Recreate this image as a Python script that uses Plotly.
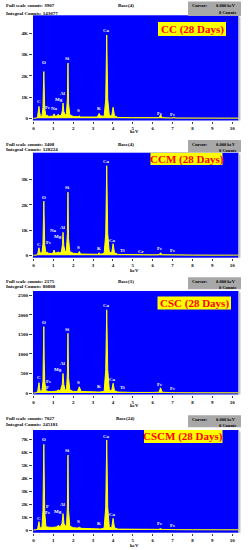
import plotly.graph_objects as go

# ---------------- data ----------------
titles = ["CC (28 Days)", "CCM (28 Days)", "CSC (28 Days)", "CSCM (28 Days)"]
full_scale = ["3907", "3408", "2175", "7027"]
integral = ["143077", "128224", "80808", "245181"]
base_txt = ["Base(4)", "Base(4)", "Base(1)", "Base(24)"]

cc_kev = [0.00, 0.15, 0.21, 0.25, 0.28, 0.31, 0.36, 0.43, 0.48, 0.525, 0.57, 0.63, 0.70, 0.77, 0.90, 0.99, 1.04, 1.09, 1.18, 1.25,
          1.31, 1.41, 1.46, 1.49, 1.53, 1.60, 1.66, 1.71, 1.74, 1.77, 1.83, 2.00, 2.24, 2.31, 2.38, 2.70, 3.20, 3.27, 3.31, 3.36,
          3.56, 3.64, 3.69, 3.74, 3.82, 3.94, 4.01, 4.08, 4.25, 5.00, 6.00, 6.32, 6.40, 6.48, 6.95, 7.06, 7.17, 8.00, 9.00, 10.40]
cc_counts = [0, 10, 80, 350, 560, 300, 80, 100, 500, 2200, 450, 110, 140, 90, 80, 100, 210, 100, 110, 190,
             120, 150, 380, 720, 320, 140, 220, 900, 2600, 700, 160, 90, 70, 110, 60, 50, 60, 150, 230, 120,
             90, 900, 3920, 900, 130, 110, 520, 120, 40, 30, 25, 30, 170, 30, 15, 40, 15, 12, 10, 8]

ccm_kev = [0.00, 0.15, 0.22, 0.28, 0.33, 0.43, 0.48, 0.525, 0.57, 0.63, 0.70, 0.77, 0.90, 0.99, 1.04, 1.09, 1.18, 1.25, 1.31, 1.41,
           1.46, 1.49, 1.53, 1.60, 1.66, 1.71, 1.74, 1.77, 1.83, 2.00, 2.24, 2.31, 2.38, 2.70, 3.24, 3.31, 3.38, 3.56, 3.64, 3.69,
           3.74, 3.82, 3.94, 4.01, 4.08, 4.25, 4.51, 4.80, 5.41, 6.00, 6.32, 6.40, 6.48, 6.95, 7.06, 7.17, 8.00, 9.00, 10.40]
ccm_counts = [0, 10, 60, 300, 90, 90, 450, 2150, 420, 100, 120, 80, 70, 90, 210, 90, 100, 130, 100, 130,
              420, 910, 380, 130, 200, 850, 2500, 650, 150, 80, 60, 150, 50, 45, 40, 100, 40, 80, 850, 3550,
              850, 120, 100, 460, 110, 35, 30, 25, 20, 20, 25, 100, 25, 15, 25, 12, 10, 8, 6]

csc_kev = [0.00, 0.15, 0.22, 0.28, 0.33, 0.43, 0.48, 0.505, 0.525, 0.545, 0.57, 0.63, 0.68, 0.75, 0.90, 1.04, 1.15, 1.25, 1.35, 1.45,
           1.49, 1.53, 1.60, 1.67, 1.71, 1.74, 1.77, 1.83, 2.00, 2.22, 2.31, 2.40, 2.70, 3.31, 3.56, 3.64, 3.69, 3.74, 3.82, 3.94,
           4.01, 4.08, 4.25, 4.51, 5.00, 6.00, 6.32, 6.40, 6.48, 6.95, 7.06, 7.17, 8.00, 9.00, 10.40]
csc_counts = [0, 5, 60, 265, 50, 50, 300, 850, 1700, 850, 300, 60, 50, 40, 35, 40, 45, 80, 50, 220,
              500, 220, 60, 120, 500, 1530, 400, 80, 40, 40, 160, 40, 30, 25, 40, 600, 2130, 600, 70, 60,
              250, 60, 25, 20, 15, 15, 20, 135, 20, 10, 15, 8, 6, 5, 4]

cscm_kev = [0.00, 0.15, 0.22, 0.28, 0.33, 0.43, 0.48, 0.525, 0.55, 0.57, 0.63, 0.70, 0.77, 0.90, 1.04, 1.15, 1.25, 1.35, 1.44, 1.49,
            1.54, 1.62, 1.67, 1.71, 1.74, 1.77, 1.83, 2.00, 2.22, 2.31, 2.40, 2.70, 3.24, 3.31, 3.38, 3.56, 3.64, 3.69, 3.74, 3.82,
            3.94, 4.01, 4.08, 4.25, 5.00, 6.00, 6.32, 6.40, 6.48, 6.95, 7.06, 7.17, 8.00, 9.00, 10.40]
cscm_counts = [0, 20, 150, 650, 150, 200, 1500, 6640, 3800, 1400, 250, 260, 220, 200, 220, 230, 350, 250, 500, 1270,
               500, 250, 450, 1800, 5810, 1500, 300, 180, 150, 220, 130, 110, 90, 120, 80, 150, 1800, 6980, 1800, 200,
               180, 900, 180, 70, 50, 40, 50, 110, 45, 30, 40, 25, 20, 15, 10]

cc_lab = ["C", "O", "Fe", "Na", "Mg", "Al", "Si", "S", "K", "Ca", "Fe", "Fe"]
cc_lab_kev = [0.28, 0.52, 0.74, 1.04, 1.28, 1.49, 1.74, 2.29, 3.29, 3.69, 6.39, 7.04]
cc_lab_counts = [780, 2640, 520, 440, 900, 1180, 2820, 350, 470, 4110, 240, 200]

ccm_lab = ["C", "O", "Fe", "Na", "Mg", "Al", "Si", "S", "K", "Ca", "Ca", "Ti", "Cr", "Fe", "Fe"]
ccm_lab_kev = [0.28, 0.52, 0.77, 1.02, 1.25, 1.49, 1.74, 2.29, 3.29, 3.69, 4.00, 4.50, 5.42, 6.37, 7.04]
ccm_lab_counts = [440, 2300, 490, 980, 740, 1120, 2700, 300, 260, 3710, 600, 200, 170, 260, 180]

csc_lab = ["C", "O", "Fe", "F", "Mg", "Al", "Si", "S", "K", "Ca", "Ca", "Ti", "Fe", "Fe"]
csc_lab_kev = [0.28, 0.52, 0.77, 0.72, 1.25, 1.49, 1.74, 2.29, 3.29, 3.69, 4.00, 4.50, 6.39, 7.04]
csc_lab_counts = [392, 1800, 307, 150, 614, 768, 1630, 282, 162, 2236, 358, 137, 230, 128]

cscm_lab = ["C", "O", "F", "Fe", "Mg", "Al", "Si", "S", "K", "Ca", "Ca", "Fe", "Fe"]
cscm_lab_kev = [0.28, 0.52, 0.71, 0.72, 1.25, 1.49, 1.74, 2.29, 3.29, 3.69, 4.00, 6.37, 7.04]
cscm_lab_counts = [900, 7000, 1800, 1340, 1470, 1940, 6150, 650, 520, 7240, 1240, 470, 340]

cc_ytick_vals = [0, 1000, 2000, 3000, 4000]
cc_ytick_text = ["0", "1K", "2K", "3K", "4K"]
ccm_ytick_vals = [0, 1000, 2000, 3000]
ccm_ytick_text = ["0", "1K", "2K", "3K"]
csc_ytick_vals = [0, 500, 1000, 1500, 2000, 2500]
csc_ytick_text = ["0", "500", "1000", "1500", "2000", "2500"]
cscm_ytick_vals = [0, 1000, 2000, 3000, 4000, 5000, 6000, 7000]
cscm_ytick_text = ["0", "1K", "2K", "3K", "4K", "5K", "6K", "7K"]
xtick_vals = [0, 1, 2, 3, 4, 5, 6, 7, 8, 9, 10]

spectra = [(cc_kev, cc_counts), (ccm_kev, ccm_counts), (csc_kev, csc_counts), (cscm_kev, cscm_counts)]
labels = [(cc_lab, cc_lab_kev, cc_lab_counts), (ccm_lab, ccm_lab_kev, ccm_lab_counts),
          (csc_lab, csc_lab_kev, csc_lab_counts), (cscm_lab, cscm_lab_kev, cscm_lab_counts)]
yticks = [(cc_ytick_vals, cc_ytick_text), (ccm_ytick_vals, ccm_ytick_text),
          (csc_ytick_vals, csc_ytick_text), (cscm_ytick_vals, cscm_ytick_text)]

# ---------------- layout (pixel geometry) ----------------
W, H = 251, 550
def px(x):
    return x / W
def py(y):
    return 1 - y / H

PL, PR = 33.0, 238.5
panels = [
    dict(top=15.3, bot=120.5, yr=[-104, 4847], hdr=(6.0, 13.0), cur=(1.5, 16.0),
         box=(158, 226, 22, 36), kev=131.7),
    dict(top=152.7, bot=257.7, yr=[-95, 4067], hdr=(144.3, 149.7), cur=(140.0, 152.3),
         box=(150.5, 222.5, 152.7, 165.0), kev=270.0),
    dict(top=291.0, bot=394.5, yr=[-38, 2611], hdr=(281.3, 286.3), cur=(277.3, 289.3),
         box=(157.5, 231, 296.5, 309.5), kev=405.5),
    dict(top=430.0, bot=532.7, yr=[-209, 7752], hdr=(418.3, 424.0), cur=(415.3, 427.3),
         box=(144, 222.5, 430.0, 443.0), kev=545.0),
]

FONT = "Liberation Serif"
fig = go.Figure()
annotations = []
shapes = []

for i, p in enumerate(panels):
    n = "" if i == 0 else str(i + 1)
    xa, ya = "x" + n, "y" + n
    kev, cnt = spectra[i]
    fig.add_trace(go.Scatter(x=kev, y=cnt, mode="lines", fill="tozeroy",
                             fillcolor="#FFFF00", line=dict(color="#FFFF00", width=1),
                             xaxis=xa, yaxis=ya, hoverinfo="skip", showlegend=False))
    fig.layout["xaxis" + n] = dict(domain=[px(PL), px(PR)], anchor=ya, range=[-0.02, 10.32],
                                   tickvals=xtick_vals, ticks="outside", ticklen=2, tickwidth=1,
                                   tickcolor="#444", showgrid=False, zeroline=False, showline=False,
                                   tickfont=dict(family=FONT, size=5, color="black", weight="bold"))
    tv, tt = yticks[i]
    fig.layout["yaxis" + n] = dict(domain=[py(p["bot"]), py(p["top"])], anchor=xa, range=p["yr"],
                                   tickvals=tv, ticktext=tt, ticks="outside", ticklen=3, tickwidth=1,
                                   tickcolor="#444", showgrid=False, zeroline=False, showline=False,
                                   tickfont=dict(family=FONT, size=5, color="black", weight="bold"))
    # peak labels
    lt, lx, ly = labels[i]
    for t, x, y in zip(lt, lx, ly):
        annotations.append(dict(x=x, y=y, xref=xa, yref=ya, text=t, showarrow=False,
                                font=dict(family=FONT, size=5, color="white", weight="bold"),
                                xanchor="center", yanchor="middle"))
    # header
    h1, h2 = p["hdr"]
    annotations.append(dict(x=px(4), y=py(h1), xref="paper", yref="paper", showarrow=False,
                            text="Full scale counts: " + full_scale[i], xanchor="left", yanchor="middle",
                            font=dict(family=FONT, size=5, color="black", weight="bold")))
    annotations.append(dict(x=px(4), y=py(h2), xref="paper", yref="paper", showarrow=False,
                            text="Integral Counts: " + integral[i], xanchor="left", yanchor="middle",
                            font=dict(family=FONT, size=5, color="black", weight="bold")))
    annotations.append(dict(x=px(125.5), y=py(h1), xref="paper", yref="paper", showarrow=False,
                            text=base_txt[i], xanchor="center", yanchor="middle",
                            font=dict(family=FONT, size=5, color="black", weight="bold")))
    # cursor box
    c0, c1 = p["cur"]
    shapes.append(dict(type="rect", xref="paper", yref="paper", x0=px(188), x1=px(241),
                       y0=py(c1), y1=py(c0), fillcolor="#A8A8A8", line=dict(width=0), layer="above"))
    annotations.append(dict(x=px(190), y=py(c0 + 4.3), xref="paper", yref="paper", showarrow=False,
                            text="Cursor:", xanchor="left", yanchor="middle",
                            font=dict(family=FONT, size=4.5, color="black", weight="bold")))
    annotations.append(dict(x=px(238), y=py(c0 + 4.3), xref="paper", yref="paper", showarrow=False,
                            text="0.000 keV", xanchor="right", yanchor="middle",
                            font=dict(family=FONT, size=4.5, color="black", weight="bold")))
    annotations.append(dict(x=px(238), y=py(c0 + 10.5), xref="paper", yref="paper", showarrow=False,
                            text="0 Counts", xanchor="right", yanchor="middle",
                            font=dict(family=FONT, size=4.5, color="black", weight="bold")))
    # right shadow strip
    shapes.append(dict(type="rect", xref="paper", yref="paper", x0=px(PR), x1=px(PR + 2),
                       y0=py(p["bot"]), y1=py(p["top"] + 1.5), fillcolor="#C4C4C4",
                       line=dict(width=0), layer="below"))
    # title box
    b = p["box"]
    shapes.append(dict(type="rect", xref="paper", yref="paper", x0=px(b[0]), x1=px(b[1]),
                       y0=py(b[3]), y1=py(b[2]), fillcolor="#FFFF00", line=dict(width=0), layer="above"))
    annotations.append(dict(x=px((b[0] + b[1]) / 2), y=py((b[2] + b[3]) / 2 + 0.3), xref="paper", yref="paper",
                            showarrow=False, text=titles[i], xanchor="center", yanchor="middle",
                            font=dict(family=FONT, size=11, color="#FF0000", weight="bold")))
    # axis title
    annotations.append(dict(x=px(134.5), y=py(p["kev"]), xref="paper", yref="paper", showarrow=False,
                            text="keV", xanchor="center", yanchor="middle",
                            font=dict(family=FONT, size=5, color="black", weight="bold")))

fig.update_layout(width=W, height=H, margin=dict(l=0, r=0, t=0, b=0),
                  paper_bgcolor="white", plot_bgcolor="#0000FF",
                  annotations=annotations, shapes=shapes, showlegend=False)
fig.write_html("out.html", config={"displayModeBar": False},
               post_script="document.body.style.margin='0';document.body.style.padding='0';"
                           "document.documentElement.style.overflow='hidden';")
